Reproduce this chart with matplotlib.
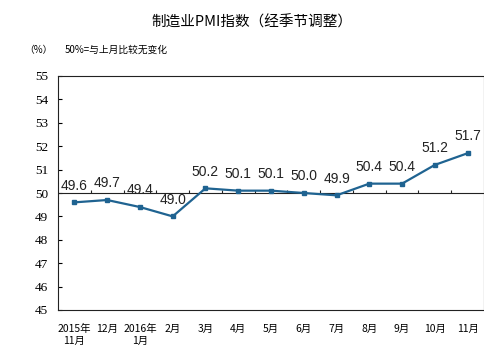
import matplotlib
matplotlib.use("Agg")
import matplotlib.pyplot as plt

plt.rcParams["font.family"] = ["Noto Sans CJK SC", "DejaVu Sans"]

months = ["2015年\n11月", "12月", "2016年\n1月", "2月", "3月", "4月", "5月",
          "6月", "7月", "8月", "9月", "10月", "11月"]
pmi = [49.6, 49.7, 49.4, 49.0, 50.2, 50.1, 50.1, 50.0, 49.9, 50.4, 50.4, 51.2, 51.7]
y_ticks = list(range(45, 56))

LINE = "#1f6391"

fig = plt.figure(figsize=(4.85, 3.56), dpi=100)
ax = fig.add_axes([58 / 485, 1 - 310 / 356, 426 / 485, 234 / 356])

x = list(range(len(pmi)))
ax.plot(x, pmi, color=LINE, lw=1.6, marker="s", ms=3.5, zorder=3)
for xi, v in zip(x, pmi):
    ax.annotate(f"{v:.1f}", (xi, v), textcoords="offset points", xytext=(0, 7),
                ha="center", va="bottom", fontsize=10, family="Liberation Sans",
                color="#222222")

ax.set_xlim(-0.5, len(pmi) - 0.5)
ax.set_ylim(45, 55)
ax.set_yticks(y_ticks)
ax.set_yticklabels([str(t) for t in y_ticks], family="Liberation Serif", fontsize=9.5)
ax.tick_params(axis="y", direction="in", length=3, width=0.8, pad=7, right=False)
ax.set_xticks(x)
ax.set_xticklabels(months, fontsize=7.5, linespacing=1.3)
ax.tick_params(axis="x", length=0, pad=10)
for s in ax.spines.values():
    s.set_linewidth(0.8)
    s.set_color("#222222")

# 50 reference line with category boundary ticks
ax.axhline(50, color="#222222", lw=0.8, zorder=2)
ax.vlines([i + 0.5 for i in x[:-1]], 50, 50.13, color="#222222", lw=0.8, zorder=2)

fig.text(252 / 485, 1 - 22 / 356, "制造业PMI指数（经季节调整）", ha="center", va="center",
         fontsize=10.5)
fig.text(24 / 485, 1 - 50 / 356, "（%）", ha="left", va="center", fontsize=7)
fig.text(65 / 485, 1 - 50 / 356, "50%=与上月比较无变化", ha="left", va="center", fontsize=7)

fig.savefig("out.png", dpi=100)
